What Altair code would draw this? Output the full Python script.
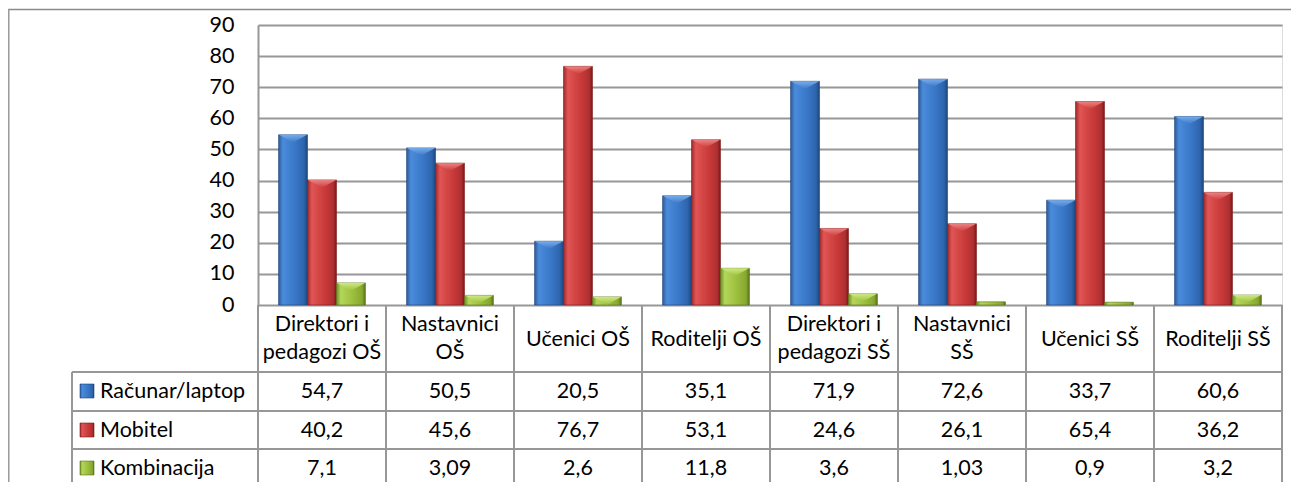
import altair as alt
import pandas as pd

categories = ["Direktori i pedagozi OŠ", "Nastavnici OŠ", "Učenici OŠ", "Roditelji OŠ",
              "Direktori i pedagozi SŠ", "Nastavnici SŠ", "Učenici SŠ", "Roditelji SŠ"]
header_line1 = ["Direktori i", "Nastavnici", "", "", "Direktori i", "Nastavnici", "", ""]
header_line2 = ["pedagozi OŠ", "OŠ", "", "", "pedagozi SŠ", "SŠ", "", ""]
header_single = ["", "", "Učenici OŠ", "Roditelji OŠ", "", "", "Učenici SŠ", "Roditelji SŠ"]
series = ["Računar/laptop", "Mobitel", "Kombinacija"]
racunar = [54.7, 50.5, 20.5, 35.1, 71.9, 72.6, 33.7, 60.6]
mobitel = [40.2, 45.6, 76.7, 53.1, 24.6, 26.1, 65.4, 36.2]
kombinacija = [7.1, 3.09, 2.6, 11.8, 3.6, 1.03, 0.9, 3.2]
y_ticks = [0, 10, 20, 30, 40, 50, 60, 70, 80, 90]

FONT = "Lato"
FS = 21.5
GRID = "#979797"

# colour styles (left edge, light, mid, right shade, dark edge, top bevel)
styles = {
    "Računar/laptop": ["#2B5C9E", "#4A8BDA", "#3A78C8", "#2E64AC", "#1E4578", "#7FB2EE"],
    "Mobitel": ["#9E2A2A", "#E05555", "#CC3C3C", "#B03030", "#7A1A1A", "#F08A8A"],
    "Kombinacija": ["#6E8E22", "#B4D65A", "#9CC03E", "#86A830", "#5A7418", "#D4EE8A"],
}

values = {"Računar/laptop": racunar, "Mobitel": mobitel, "Kombinacija": kombinacija}
rows = []
for s in series:
    for c, v in zip(categories, values[s]):
        rows.append({"category": c, "series": s, "value": v,
                     "label": str(v).replace(".", ",")})
df = pd.DataFrame(rows)
hdr = pd.DataFrame({"category": categories, "l1": header_line1,
                    "l2": header_line2, "single": header_single})
one = pd.DataFrame({"k": [0]})

x_scale = alt.Scale(domain=categories, paddingInner=0, paddingOuter=0)
y_scale = alt.Scale(domain=[0, 90], nice=False, zero=True)
X = alt.X("category:N", scale=x_scale, axis=None)
XO = alt.XOffset("series:N", scale=alt.Scale(domain=series, paddingInner=0, paddingOuter=0.71))
yaxis = alt.Axis(values=y_ticks, grid=True, gridColor=GRID, gridWidth=2,
                 domainColor=GRID, domainWidth=2, ticks=False,
                 labelFont=FONT, labelFontSize=FS, labelColor="black",
                 labelPadding=24, title=None)
Y = alt.Y("value:Q", scale=y_scale, axis=yaxis)


def grad(st, vertical=False):
    if vertical:
        return alt.LinearGradient(gradient="linear", x1=0, x2=0, y1=0, y2=1,
                                  stops=[alt.GradientStop(offset=0, color=st[5]),
                                         alt.GradientStop(offset=1, color=st[2])])
    return alt.LinearGradient(
        gradient="linear", x1=0, x2=1, y1=0, y2=0,
        stops=[alt.GradientStop(offset=0, color=st[0]),
               alt.GradientStop(offset=0.15, color=st[1]),
               alt.GradientStop(offset=0.55, color=st[2]),
               alt.GradientStop(offset=0.88, color=st[3]),
               alt.GradientStop(offset=1, color=st[4])])


layers = []

for s in series:
    st = styles[s]
    bar = alt.Chart(df).transform_filter(alt.datum.series == s).mark_bar(
        color=grad(st), stroke=st[4], strokeWidth=0.6
    ).encode(x=X, xOffset=XO, y=Y)
    layers.append(bar)
    top = alt.Chart(df).transform_filter(
        (alt.datum.series == s) & (alt.datum.value >= 2)
    ).mark_point(
        shape="M -1 0 L 1 0 L 0 0.55 Z", size=800, filled=True,
        color=grad(st, vertical=True), opacity=0.9, strokeWidth=0
    ).encode(x=X, xOffset=XO, y=Y)
    layers.append(top)

# table lines
for hy in [347, 386, 424]:
    layers.append(alt.Chart(one).mark_rule(color=GRID, strokeWidth=2).encode(
        x=alt.value(-186), x2=alt.value(1024), y=alt.value(hy)))
vlines = alt.Chart(hdr).mark_rule(color=GRID, strokeWidth=2).encode(
    x=alt.X("category:N", scale=x_scale, axis=None, bandPosition=0),
    y=alt.value(280), y2=alt.value(470))
layers.append(vlines)
vlast = alt.Chart(hdr).transform_filter(alt.datum.category == categories[-1]).mark_rule(
    color=GRID, strokeWidth=2).encode(
    x=alt.X("category:N", scale=x_scale, axis=None, bandPosition=1),
    y=alt.value(280), y2=alt.value(470))
layers.append(vlast)
vleft = alt.Chart(one).mark_rule(color=GRID, strokeWidth=2).encode(
    x=alt.value(-186), y=alt.value(347), y2=alt.value(470))
layers.append(vleft)

# header texts
for field, hy in [("l1", 299.5), ("l2", 327.5), ("single", 314.5)]:
    layers.append(alt.Chart(hdr).mark_text(
        font=FONT, fontSize=FS, color="black", align="center", baseline="middle"
    ).encode(x=X, text=f"{field}:N", y=alt.value(hy)))

row_y = [367, 406, 444]
for s, ry in zip(series, row_y):
    st = styles[s]
    t = alt.Chart(df).transform_filter(alt.datum.series == s).mark_text(
        font=FONT, fontSize=FS, color="black", align="center", baseline="middle"
    ).encode(x=X, text="label:N", y=alt.value(ry))
    layers.append(t)
    key = alt.Chart(pd.DataFrame({"series": [s]})).mark_rect(
        color=grad(st), stroke=st[4], strokeWidth=0.6
    ).encode(x=alt.value(-178), x2=alt.value(-164), y=alt.value(ry - 8), y2=alt.value(ry + 6))
    layers.append(key)
    lab = alt.Chart(pd.DataFrame({"series": [s]})).mark_text(
        font=FONT, fontSize=FS, color="black", align="left", baseline="middle"
    ).encode(x=alt.value(-158), y=alt.value(ry), text="series:N")
    layers.append(lab)

# outer chart border
border = alt.Chart(one).mark_rect(
    fillOpacity=0, stroke="#8A8A8A", strokeWidth=1.3
).encode(x=alt.value(-249.2), x2=alt.value(1060), y=alt.value(-15.5), y2=alt.value(480))
layers.append(border)

chart = alt.layer(*layers).properties(
    width=1024, height=280,
    autosize=alt.AutoSizeParams(type="none"),
    padding={"left": 250, "top": 17, "right": 9, "bottom": 177},
).configure_view(stroke=None).configure(background="white")

chart.save("out.html", embed_options={"renderer": "svg", "actions": False})
